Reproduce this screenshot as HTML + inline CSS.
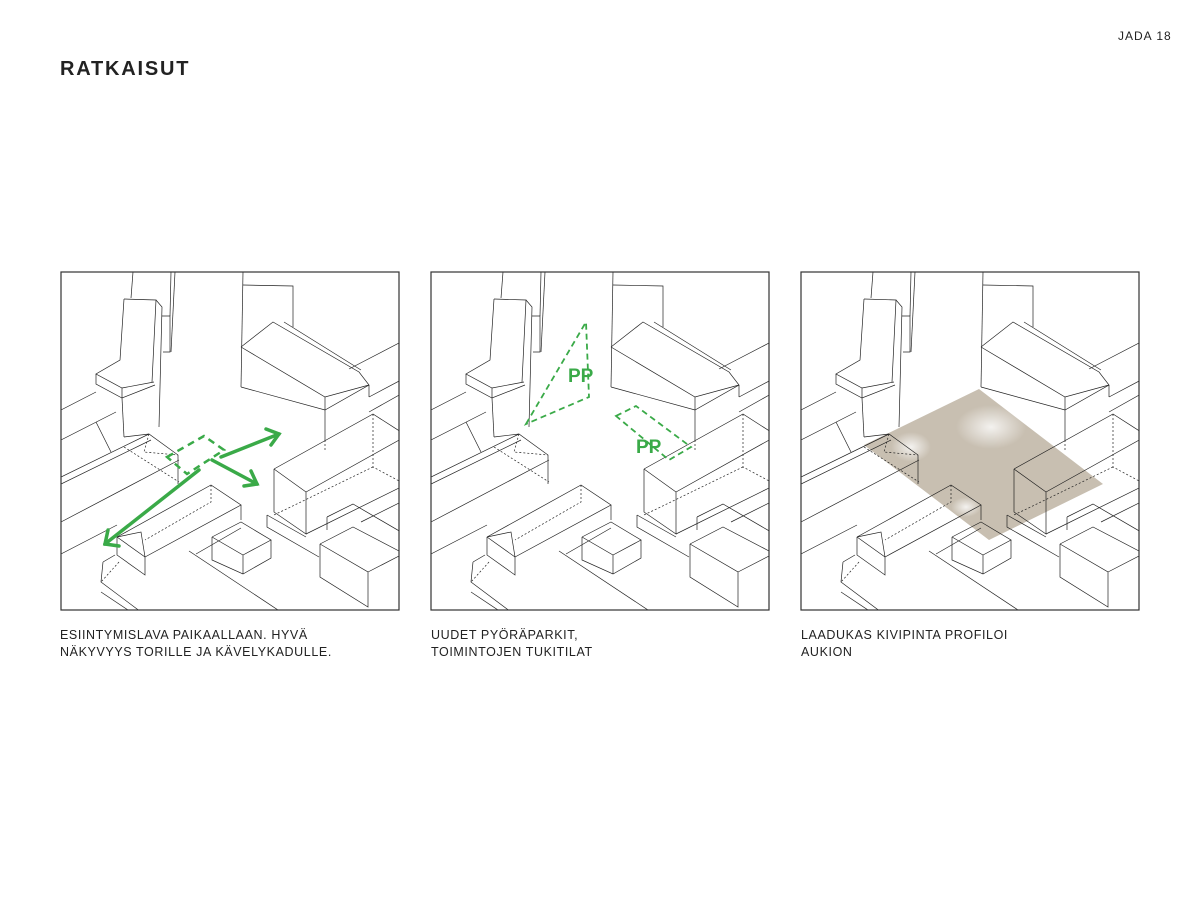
<!DOCTYPE html>
<html><head><meta charset="utf-8"><style>
body{margin:0;width:1200px;height:900px;background:#fff;position:relative;font-family:"Liberation Sans",sans-serif;overflow:hidden}
.t{position:absolute;color:#222}
.cap{position:absolute;top:627px;font-size:12.5px;line-height:17px;letter-spacing:0.6px;color:#222}
svg{position:absolute;left:0;top:0}
</style></head><body>
<div class="t" style="left:60px;top:58px;font-size:20px;font-weight:bold;letter-spacing:1.8px">RATKAISUT</div>
<div class="t" style="left:1118px;top:29px;font-size:12px;letter-spacing:1px">JADA 18</div>
<div class="cap" style="left:60px">ESIINTYMISLAVA PAIKAALLAAN. HYVÄ<br>NÄKYVYYS TORILLE JA KÄVELYKADULLE.</div>
<div class="cap" style="left:431px">UUDET PYÖRÄPARKIT,<br>TOIMINTOJEN TUKITILAT</div>
<div class="cap" style="left:801px">LAADUKAS KIVIPINTA PROFILOI<br>AUKION</div>
<svg width="1200" height="900">
<defs>
<clipPath id="cp"><rect x="0" y="0" width="338" height="338"/></clipPath>
<radialGradient id="hl1" cx="0.5" cy="0.5" r="0.5"><stop offset="0" stop-color="#fff" stop-opacity="0.8"/><stop offset="1" stop-color="#fff" stop-opacity="0"/></radialGradient>
<g id="base" fill="none" stroke="#222" stroke-width="0.7">
<g clip-path="url(#cp)">
<polyline points="72,0 70,26"/><polyline points="63,27 95,28 91,110"/><polyline points="63,27 59,88 35,102 61,116 93,110"/>
<polyline points="35,102 35,112 61,126 94,113"/><line x1="61" y1="116" x2="61" y2="126"/><line x1="61" y1="126" x2="63" y2="165"/>
<polyline points="95,28 101,35 98,155"/><polyline points="101,44 109,44 109,80 102,80"/><line x1="110" y1="0" x2="109" y2="44"/><line x1="114" y1="0" x2="110" y2="80"/>
<line x1="0" y1="138" x2="35" y2="120"/><line x1="0" y1="168" x2="55" y2="140"/><line x1="0" y1="205" x2="88" y2="162"/><line x1="0" y1="212" x2="90" y2="168"/><line x1="0" y1="250" x2="118" y2="188"/><line x1="0" y1="282" x2="56" y2="253"/>
<polyline points="35,150 50,180"/><polyline points="63,165 88,162 117,183 117,212"/><polyline points="88,162 83,180 117,183" stroke-dasharray="2,2"/><polyline points="63,175 118,210" stroke-dasharray="2,2"/>
<line x1="182" y1="0" x2="180" y2="115"/><polyline points="182,13 232,14 232,55"/>
<polyline points="180,75 212,50 298,100 308,113 264,138 180,115"/><polyline points="180,75 264,125 308,113"/><line x1="223" y1="50" x2="300" y2="98"/>
<line x1="264" y1="125" x2="264" y2="168"/><line x1="308" y1="113" x2="308" y2="125"/><line x1="288" y1="97" x2="340" y2="70"/><line x1="308" y1="125" x2="340" y2="108"/><line x1="308" y1="140" x2="340" y2="122"/>
<polyline points="213,197 312,142 340,160"/><polyline points="213,197 245,220 340,167"/><polyline points="213,197 213,240 245,262 245,220"/>
<polyline points="312,142 312,195 340,210" stroke-dasharray="2,2"/><polyline points="312,195 213,243" stroke-dasharray="2,2"/><line x1="264" y1="168" x2="264" y2="180" stroke-dasharray="2,2"/>
<polyline points="206,243 206,255 258,285"/><line x1="206" y1="243" x2="245" y2="265"/><line x1="245" y1="262" x2="340" y2="215"/><line x1="300" y1="250" x2="340" y2="230"/>
<polyline points="259,272 292,255 340,280"/><polyline points="266,245 292,232 340,260"/><line x1="266" y1="245" x2="266" y2="258"/><polyline points="259,272 259,305 307,335 307,300 259,272"/><line x1="307" y1="300" x2="340" y2="283"/>
<polyline points="151,265 180,250 210,268 182,283 151,265"/><polyline points="151,265 151,288 182,302 210,286 210,268"/><line x1="182" y1="283" x2="182" y2="302"/>
<polyline points="56,265 150,213 180,233 84,285 56,265"/><polyline points="56,265 56,283 84,303 84,285"/><line x1="180" y1="233" x2="180" y2="248"/><polyline points="150,213 150,230 84,268" stroke-dasharray="2,2"/><polyline points="56,265 80,260 84,285"/>
<line x1="128" y1="279" x2="220" y2="340"/><line x1="135" y1="282" x2="180" y2="256"/><polyline points="42,290 54,283"/><polyline points="42,290 40,310 80,340"/><polyline points="58,290 40,310" stroke-dasharray="2,2"/><line x1="40" y1="320" x2="70" y2="340"/>
</g>
<rect x="0" y="0" width="338" height="338" stroke="#333" stroke-width="1.2"/>
</g>
</defs>
<g transform="translate(61,272)"><use href="#base"/>
<polygon points="106,185 143,164 163,178 126,202" fill="none" stroke="#3aaa48" stroke-width="2.5" stroke-dasharray="7,5"/>
<g stroke="#3aaa48" stroke-width="3.5" fill="none" stroke-linecap="round">
<line x1="160" y1="185" x2="218" y2="162"/><polyline points="205,157 218,162 210,173"/>
<line x1="151" y1="188" x2="196" y2="212"/><polyline points="190,199 196,212 183,214"/>
<line x1="138" y1="198" x2="44" y2="272"/><polyline points="47,258 44,272 58,274"/>
</g></g>
<g transform="translate(431,272)"><use href="#base"/>
<polygon points="95,152 155,50 158,125" fill="none" stroke="#3aaa48" stroke-width="1.8" stroke-dasharray="6,4"/>
<polygon points="185,144 205,134 260,175 238,188" fill="none" stroke="#3aaa48" stroke-width="1.8" stroke-dasharray="6,4"/>
<text x="137" y="110" font-family="Liberation Sans,sans-serif" font-weight="bold" font-size="19" fill="#3aaa48">PP</text>
<text x="205" y="181" font-family="Liberation Sans,sans-serif" font-weight="bold" font-size="19" fill="#3aaa48">PP</text>
</g>
<g transform="translate(801,272)">
<polygon points="63,173 178,117 302,212 188,268" fill="#c8bfb1"/>
<ellipse cx="190" cy="155" rx="35" ry="22" fill="url(#hl1)"/><ellipse cx="110" cy="175" rx="20" ry="15" fill="url(#hl1)"/><ellipse cx="165" cy="235" rx="15" ry="10" fill="url(#hl1)"/>
<use href="#base"/></g>
</svg>
</body></html>
